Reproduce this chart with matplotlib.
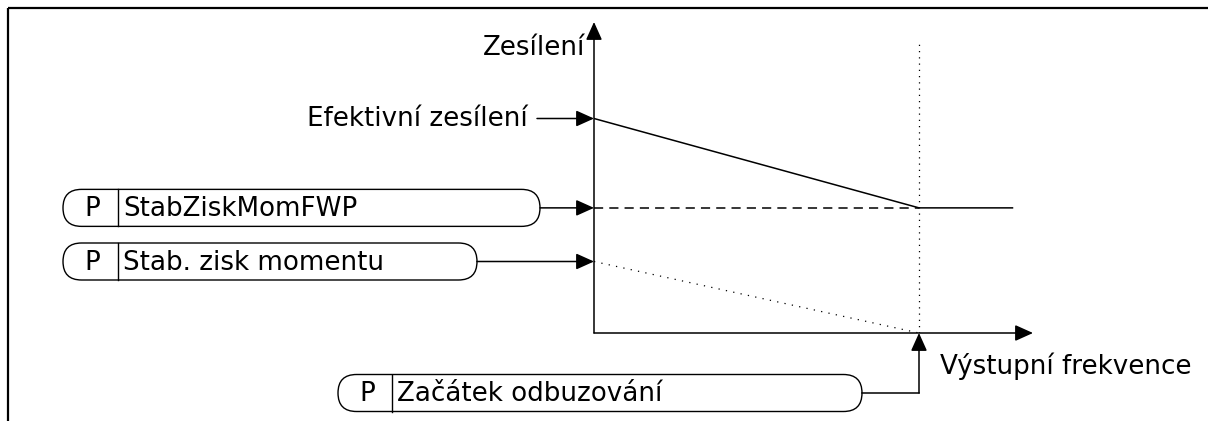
import matplotlib
matplotlib.use("Agg")
import matplotlib.pyplot as plt
from matplotlib.patches import FancyBboxPatch

# ---- data (relative units) ----
freq_effective = [0.0, 1.0, 1.29]
gain_effective = [3.0, 1.75, 1.75]
freq_fwp = [0.0, 1.0]
gain_fwp = [1.75, 1.75]
freq_torque = [0.0, 1.0]
gain_torque = [1.0, 0.0]
fw_start = 1.0
fw_line_top = 4.07

label_y = "Zesílení"
label_x = "Výstupní frekvence"
label_eff = "Efektivní zesílení"
param_fwp = "StabZiskMomFWP"
param_torque = "Stab. zisk momentu"
param_fwstart = "Začátek odbuzování"

W, H = 1208, 421
fig = plt.figure(figsize=(W / 100, H / 100), dpi=100)
plt.rcParams['font.family'] = ['DejaVu Sans']

# overlay axes in pixel coordinates
ov = fig.add_axes([0, 0, 1, 1])
ov.set_xlim(0, W)
ov.set_ylim(H, 0)
ov.axis('off')

# chart axes
ax_l, ax_r, ax_b, ax_t = 594, 1033, 333, 22
ax = fig.add_axes([ax_l / W, (H - ax_b) / H, (ax_r - ax_l) / W, (ax_b - ax_t) / H])
ax.set_xlim(0, (ax_r - ax_l) / 325)
ax.set_ylim(0, (ax_b - ax_t) / 71.5)
ax.axis('off')
ax.patch.set_alpha(0)

lw = 1.1
arrow_kw = dict(arrowstyle='-|>,head_length=1.0,head_width=0.45', mutation_scale=11,
                color='black', lw=lw, shrinkA=0, shrinkB=0)

# axes arrows
ax.annotate('', xy=(1, 0), xytext=(0, 0), xycoords='axes fraction', arrowprops=arrow_kw)
ax.annotate('', xy=(0, 1), xytext=(0, 0), xycoords='axes fraction', arrowprops=arrow_kw)

# curves
ax.plot(freq_effective, gain_effective, color='black', lw=lw, solid_capstyle='butt')
ax.plot(freq_fwp, gain_fwp, color='black', lw=lw, linestyle=(0, (6, 4)))
ax.plot(freq_torque, gain_torque, color='black', lw=0.9, linestyle=(0, (1, 5)))
ax.plot([fw_start, fw_start], [0, fw_line_top], color='black', lw=0.9, linestyle=(0, (1, 4)))

fig.canvas.draw()


def to_px(x, y):
    d = ax.transData.transform((x, y))
    return ov.transData.inverted().transform(d)


# frame
ov.plot([8, W], [8, 8], color='black', lw=1.6, solid_capstyle='butt')
ov.plot([8, 8], [8, H], color='black', lw=1.6, solid_capstyle='butt')

fs = 18.8


def param_box(x0, x1, yc, div, text):
    h = 37
    box = FancyBboxPatch((x0, yc - h / 2), x1 - x0, h,
                         boxstyle=f"round,pad=0,rounding_size={h/2}",
                         fc='white', ec='black', lw=1.0)
    ov.add_patch(box)
    ov.plot([div, div], [yc - h / 2, yc + h / 2], color='black', lw=1.0)
    ov.text((x0 + div) / 2 + 2, yc + 1, "P", fontsize=fs, ha='center', va='center')
    ov.text(div + 5, yc + 1, text, fontsize=fs, ha='left', va='center')


# box 1 (FWP)
_, y1 = to_px(0, gain_fwp[0])
param_box(63, 540, y1, 118, param_fwp)
ax.annotate('', xy=(0, gain_fwp[0]), xycoords='data', xytext=(540, y1),
            textcoords=ov.transData, arrowprops=arrow_kw)

# box 2 (torque)
_, y2 = to_px(0, gain_torque[0])
param_box(63, 477, y2, 118, param_torque)
ax.annotate('', xy=(0, gain_torque[0]), xycoords='data', xytext=(477, y2),
            textcoords=ov.transData, arrowprops=arrow_kw)

# box 3 (field weakening start)
y3 = 393
xf, _ = to_px(fw_start, 0)
param_box(338, 862, y3, 392, param_fwstart)
ov.plot([862, xf], [y3, y3], color='black', lw=lw)
ax.annotate('', xy=(fw_start, 0), xycoords='data', xytext=(xf, y3),
            textcoords=ov.transData, arrowprops=arrow_kw)

# effective gain label + arrow
_, ye = to_px(0, gain_effective[0])
ov.text(528, ye, label_eff, fontsize=fs, ha='right', va='center')
ax.annotate('', xy=(0, gain_effective[0]), xycoords='data', xytext=(537, ye),
            textcoords=ov.transData, arrowprops=arrow_kw)

# axis labels
ov.text(585, 48, label_y, fontsize=fs, ha='right', va='center')
ov.text(940, 366, label_x, fontsize=fs, ha='left', va='center')

fig.savefig('out.png', dpi=100)
